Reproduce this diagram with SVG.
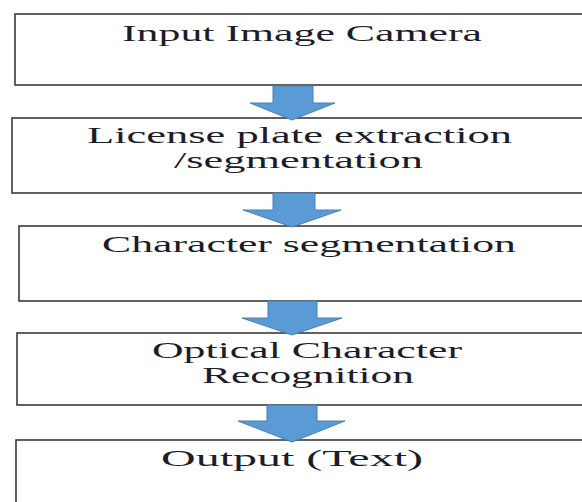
<svg xmlns="http://www.w3.org/2000/svg" width="582" height="502" viewBox="0 0 582 502">
<style>
.box{fill:#ffffff;stroke:#3a3a3a;stroke-width:1.6}
.lbl{font-family:"Liberation Serif","Times New Roman",serif;font-size:23px;fill:#1c1c2a}
.arr{fill:#5b9bd5;stroke:#4a7fb3;stroke-width:1}
</style>
<rect width="582" height="502" fill="#ffffff"/>
<g id="node1">
<rect class="box" x="15" y="14" width="600" height="71"/>
<text class="lbl" x="122" y="41" textLength="360" lengthAdjust="spacingAndGlyphs">Input Image Camera</text>
</g>
<g id="node2">
<rect class="box" x="12" y="118" width="600" height="75"/>
<text class="lbl" x="87" y="143" textLength="425" lengthAdjust="spacingAndGlyphs">License plate extraction</text>
<text class="lbl" x="174" y="168" textLength="249" lengthAdjust="spacingAndGlyphs">/segmentation</text>
</g>
<g id="node3">
<rect class="box" x="19" y="226" width="600" height="75"/>
<text class="lbl" x="102" y="252" textLength="414" lengthAdjust="spacingAndGlyphs">Character segmentation</text>
</g>
<g id="node4">
<rect class="box" x="17" y="333" width="600" height="72"/>
<text class="lbl" x="152" y="358" textLength="310" lengthAdjust="spacingAndGlyphs">Optical Character</text>
<text class="lbl" x="202" y="383" textLength="212" lengthAdjust="spacingAndGlyphs">Recognition</text>
</g>
<g id="node5">
<rect class="box" x="16" y="440" width="600" height="80"/>
<text class="lbl" x="161" y="466" textLength="262" lengthAdjust="spacingAndGlyphs">Output (Text)</text>
</g>
<g id="connectors">
<polygon class="arr" points="273,86 313,86 313,103 335,103 292,120 250,103 273,103"/>
<polygon class="arr" points="273,193 315,193 315,210 341,210 292,227 243,210 273,210"/>
<polygon class="arr" points="268,301 317,301 317,318 342,318 292,335 242,318 268,318"/>
<polygon class="arr" points="267,405 317,405 317,421 345,421 292,442 238,421 267,421"/>
</g>
</svg>
